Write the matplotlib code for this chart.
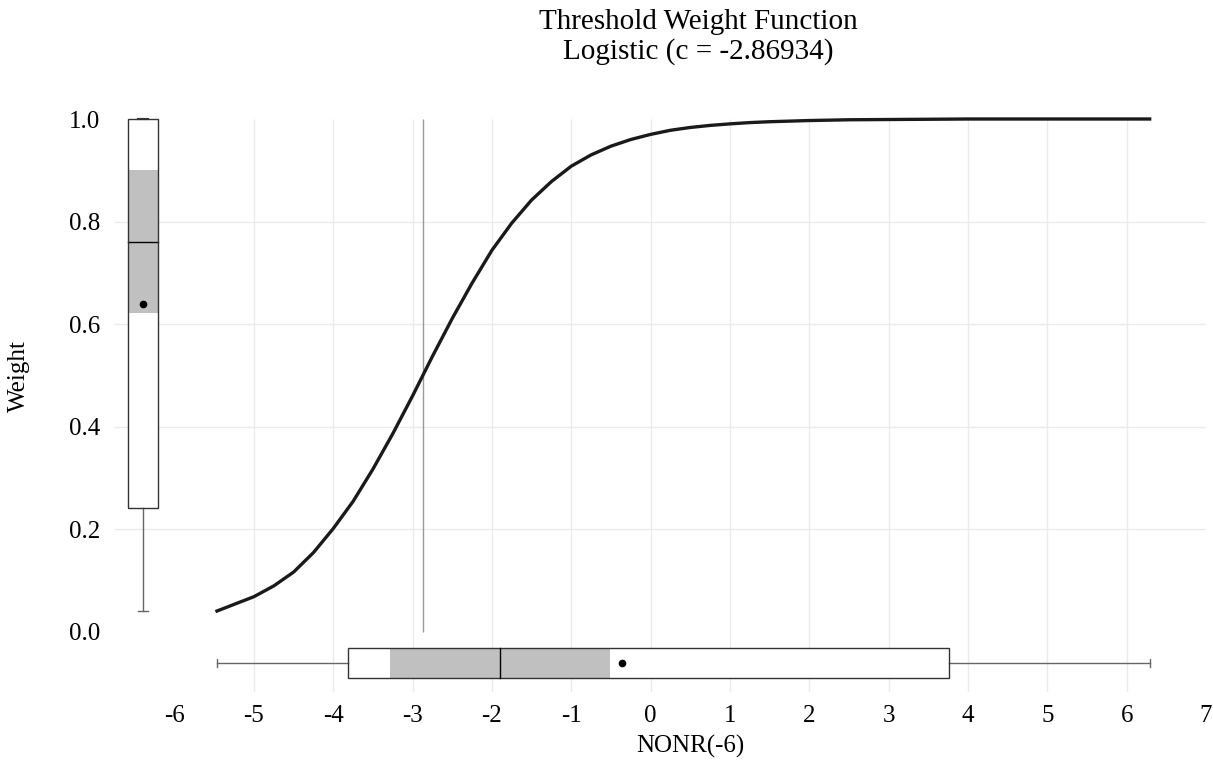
import matplotlib
matplotlib.use("Agg")
import matplotlib.pyplot as plt
from matplotlib.patches import Rectangle

plt.rcParams['font.family'] = ['Liberation Serif', 'DejaVu Serif']
plt.rcParams['axes.unicode_minus'] = False

# threshold weight curve
curve_x = [-5.466, -5.25, -5.0, -4.75, -4.5, -4.25, -4.0, -3.75, -3.5, -3.25, -3.0, -2.87,
           -2.75, -2.5, -2.25, -2.0, -1.75, -1.5, -1.25, -1.0, -0.75, -0.5, -0.25, 0.0,
           0.25, 0.5, 0.75, 1.0, 1.25, 1.5, 2.0, 2.5, 3.0, 4.0, 5.0, 6.29]
curve_y = [0.040, 0.053, 0.068, 0.089, 0.116, 0.154, 0.201, 0.254, 0.317, 0.386, 0.460, 0.500,
           0.537, 0.611, 0.680, 0.744, 0.797, 0.842, 0.878, 0.908, 0.930, 0.947, 0.960, 0.970,
           0.978, 0.9835, 0.9875, 0.9905, 0.993, 0.9947, 0.997, 0.9985, 0.999, 1.0, 1.0, 1.0]
c_value = -2.86934

# box plot of weights (vertical, left)
w_box = dict(low=0.040, q1=0.241, med=0.760, q3=1.0, high=1.0, ci_lo=0.621, ci_hi=0.900, mean=0.639)
# box plot of threshold variable (horizontal, bottom)
x_box = dict(low=-5.466, q1=-3.815, med=-1.90, q3=3.758, high=6.29, ci_lo=-3.286, ci_hi=-0.514, mean=-0.363)

x_ticks = list(range(-6, 8))
y_ticks = [0.0, 0.2, 0.4, 0.6, 0.8, 1.0]

fig = plt.figure(figsize=(12.13, 7.69), dpi=100)
ax = fig.add_axes([114 / 1213, 77 / 769, 1092 / 1213, 573 / 769])
ax.set_xlim(-6.764, 7.0)
ax.set_ylim(-0.118, 1.0)
for s in ax.spines.values():
    s.set_visible(False)

grid_col = '#ebebeb'
ax.vlines(x_ticks[1:-1], -0.118, 1.0, color=grid_col, lw=1, zorder=0)
ax.hlines(y_ticks[1:-1], -6.764, 7.0, color=grid_col, lw=1, zorder=0)

ax.set_xticks(x_ticks)
ax.set_xticklabels([str(t) for t in x_ticks])
ax.set_yticks(y_ticks)
ax.set_yticklabels([f"{t:.1f}" for t in y_ticks])
ax.tick_params(axis='both', length=0, labelsize=18)
ax.tick_params(axis='x', pad=9)
ax.tick_params(axis='y', pad=10)

# curve and threshold
ax.plot(curve_x, curve_y, color='#1a1a1a', lw=2.4, clip_on=False, zorder=3,
        solid_joinstyle='round')
ax.vlines(c_value, 0.0, 1.0, color='#9a9a9a', lw=1, zorder=2)

edge = '#333333'
wc = '#666666'
shade = '#c0c0c0'

# left vertical box
bx, bw = -6.399, 0.378
ax.add_patch(Rectangle((bx - bw / 2, w_box['q1']), bw, w_box['q3'] - w_box['q1'],
                       fc='white', ec='none', zorder=3, clip_on=False))
ax.add_patch(Rectangle((bx - bw / 2, w_box['ci_lo']), bw, w_box['ci_hi'] - w_box['ci_lo'],
                       fc=shade, ec='none', zorder=3, clip_on=False))
ax.plot([bx - bw / 2, bx + bw / 2], [w_box['med']] * 2, color='black', lw=1, zorder=4)
ax.plot([bx, bx], [w_box['low'], w_box['q1']], color=wc, lw=1, zorder=3)
ax.plot([bx - 0.065, bx + 0.065], [w_box['low']] * 2, color=wc, lw=1, zorder=3)
ax.plot([bx - 0.065, bx + 0.065], [w_box['high']] * 2, color=edge, lw=1.5, zorder=4, clip_on=False)
ax.plot([bx], [w_box['mean']], 'o', color='black', ms=4.5, zorder=5)
ax.add_patch(Rectangle((bx - bw / 2, w_box['q1']), bw, w_box['q3'] - w_box['q1'],
                       fc='none', ec=edge, lw=1, zorder=4, clip_on=False))

# bottom horizontal box
by, bh = -0.0615, 0.0585
ax.add_patch(Rectangle((x_box['q1'], by - bh / 2), x_box['q3'] - x_box['q1'], bh,
                       fc='white', ec='none', zorder=3))
ax.add_patch(Rectangle((x_box['ci_lo'], by - bh / 2), x_box['ci_hi'] - x_box['ci_lo'], bh,
                       fc=shade, ec='none', zorder=3))
ax.add_patch(Rectangle((x_box['q1'], by - bh / 2), x_box['q3'] - x_box['q1'], bh,
                       fc='none', ec=edge, lw=1, zorder=4))
ax.plot([x_box['med']] * 2, [by - bh / 2, by + bh / 2], color='black', lw=1, zorder=4)
ax.plot([x_box['low'], x_box['q1']], [by, by], color=wc, lw=1, zorder=3)
ax.plot([x_box['q3'], x_box['high']], [by, by], color=wc, lw=1, zorder=3)
for xv in (x_box['low'], x_box['high']):
    ax.plot([xv, xv], [by - 0.008, by + 0.008], color=wc, lw=1, zorder=3)
ax.plot([x_box['mean']], [by], 'o', color='black', ms=4.5, zorder=5)

fig.text(698 / 1213, 1 - 22 / 769, "Threshold Weight Function", ha='center', va='center', fontsize=21)
fig.text(698 / 1213, 1 - 52 / 769, "Logistic (c = -2.86934)", ha='center', va='center', fontsize=21)
fig.text(690 / 1213, 1 - 746 / 769, "NONR(-6)", ha='center', va='center', fontsize=18)
fig.text(19 / 1213, 1 - 376 / 769, "Weight", ha='center', va='center', rotation=90, fontsize=18)

fig.savefig("out.png", dpi=100)
